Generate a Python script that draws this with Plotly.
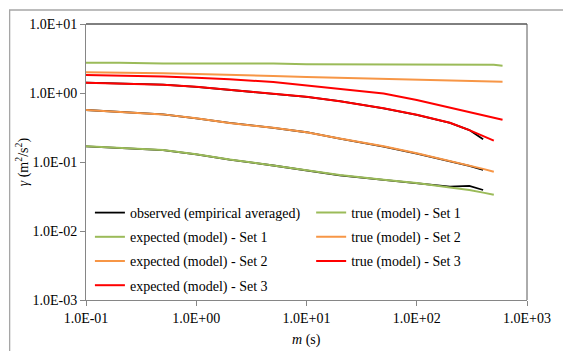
import plotly.graph_objects as go

# Averaging window m (s) for each series
m_observed = [0.1, 0.2, 0.5, 1, 2, 5, 10, 20, 50, 100, 200, 300, 400]
m_expected = [0.1, 0.2, 0.5, 1, 2, 5, 10, 20, 50, 100, 200, 300, 400, 500]
m_true = [0.1, 0.2, 0.5, 1, 2, 5, 10, 20, 50, 100, 200, 300, 400, 500, 600]

# Observed (empirical averaged) curves, one per set
obs_set1 = [0.169, 0.160, 0.149, 0.129, 0.108, 0.089, 0.076, 0.064, 0.055, 0.0488, 0.0440, 0.0452, 0.0393]
obs_set2 = [0.567, 0.533, 0.49, 0.43, 0.368, 0.313, 0.27, 0.219, 0.167, 0.132, 0.103, 0.088, 0.0766]
obs_set3 = [1.41, 1.37, 1.32, 1.23, 1.11, 0.98, 0.88, 0.76, 0.60, 0.48, 0.37, 0.29, 0.213]

# Model curves
true_set1 = [2.75, 2.75, 2.68, 2.68, 2.68, 2.67, 2.61, 2.60, 2.60, 2.60, 2.60, 2.60, 2.60, 2.56, 2.49]
true_set2 = [2.00, 1.98, 1.94, 1.88, 1.81, 1.76, 1.71, 1.66, 1.62, 1.57, 1.52, 1.50, 1.49, 1.47, 1.46]
true_set3 = [1.82, 1.79, 1.74, 1.66, 1.58, 1.44, 1.29, 1.15, 0.98, 0.79, 0.61, 0.53, 0.475, 0.44, 0.41]
exp_set1 = [0.169, 0.160, 0.149, 0.130, 0.109, 0.089, 0.076, 0.065, 0.0553, 0.0495, 0.0427, 0.0393, 0.036, 0.0335]
exp_set2 = [0.567, 0.533, 0.49, 0.43, 0.368, 0.313, 0.27, 0.219, 0.169, 0.134, 0.104, 0.0904, 0.0795, 0.0721]
exp_set3 = [1.41, 1.37, 1.32, 1.23, 1.11, 0.98, 0.88, 0.76, 0.60, 0.485, 0.37, 0.29, 0.238, 0.204]

x_tick_vals = [0.1, 1, 10, 100, 1000]
x_tick_text = ["1.0E-01", "1.0E+00", "1.0E+01", "1.0E+02", "1.0E+03"]
y_tick_vals = [0.001, 0.01, 0.1, 1, 10]
y_tick_text = ["1.0E-03", "1.0E-02", "1.0E-01", "1.0E+00", "1.0E+01"]

FONT = "Liberation Serif, Times New Roman, serif"
GREEN = "#9BBB59"
ORANGE = "#F79646"
RED = "#FF0000"

# Observed curves joined into a single trace with gaps between sets
obs_x = m_observed + [None] + m_observed + [None] + m_observed
obs_y = obs_set1 + [None] + obs_set2 + [None] + obs_set3

fig = go.Figure()


def add_line(x, y, name, color, legend, group, width=2):
    fig.add_trace(go.Scatter(
        x=x, y=y, name=name, mode="lines",
        line=dict(color=color, width=width),
        legend=legend, legendgroup=group,
        connectgaps=False,
    ))


add_line(obs_x, obs_y, "observed (empirical averaged)", "#000000", "legend", "a", 1.8)
add_line(m_true, true_set1, "true (model) - Set 1", GREEN, "legend2", "b")
add_line(m_expected, exp_set1, "expected (model) - Set 1", GREEN, "legend", "c")
add_line(m_true, true_set2, "true (model) - Set 2", ORANGE, "legend2", "d")
add_line(m_expected, exp_set2, "expected (model) - Set 2", ORANGE, "legend", "e")
add_line(m_true, true_set3, "true (model) - Set 3", RED, "legend2", "f")
add_line(m_expected, exp_set3, "expected (model) - Set 3", RED, "legend", "g")

W, H = 563, 351
L, R, T, B = 86, 26.5, 24, 51
pw, ph = W - L - R, H - T - B


def px(x):
    return (x - L) / pw


def py(y):
    return (H - B - y) / ph


legend_common = dict(
    font=dict(family=FONT, size=14, color="#000000"),
    bgcolor="rgba(0,0,0,0)", borderwidth=0,
    orientation="v", tracegroupgap=3, itemwidth=30,
    xanchor="left", yanchor="top", traceorder="grouped",
)

fig.update_layout(
    width=W, height=H,
    margin=dict(l=L, r=R, t=T, b=B),
    paper_bgcolor="white", plot_bgcolor="white",
    font=dict(family=FONT, size=14, color="#000000"),
    showlegend=True,
    legend=dict(x=px(90), y=py(197), **legend_common),
    legend2=dict(x=px(316), y=py(197), **legend_common),
    xaxis=dict(
        type="log", range=[-1, 3],
        tickvals=x_tick_vals, ticktext=x_tick_text,
        ticks="outside", ticklen=5, tickcolor="#868686",
        showline=True, linecolor="#868686", linewidth=1,
        showgrid=False, zeroline=False,
        tickfont=dict(family=FONT, size=14, color="#000000"),
    ),
    yaxis=dict(
        type="log", range=[-3, 1],
        tickvals=y_tick_vals, ticktext=y_tick_text,
        ticks="outside", ticklen=5, tickcolor="#868686",
        showline=True, linecolor="#868686", linewidth=1,
        showgrid=False, zeroline=False,
        tickfont=dict(family=FONT, size=14, color="#000000"),
    ),
    shapes=[
        # chart frame
        dict(type="rect", xref="paper", yref="paper",
             x0=px(8), x1=px(580), y0=py(370), y1=py(10),
             line=dict(color="#A6A6A6", width=1.3), layer="below"),
        # plot area top and right edges
        dict(type="line", xref="paper", yref="paper",
             x0=0, x1=1, y0=1, y1=1, line=dict(color="#000000", width=1)),
        dict(type="line", xref="paper", yref="paper",
             x0=1, x1=1, y0=0, y1=1, line=dict(color="#595959", width=1)),
    ],
    annotations=[
        dict(text="<i>γ</i> (m<sup>2</sup>/s<sup>2</sup>)", xref="paper", yref="paper",
             x=px(21), y=0.5, textangle=-90, showarrow=False,
             xanchor="center", yanchor="middle",
             font=dict(family=FONT, size=14, color="#000000")),
        dict(text="<i>m</i> (s)", xref="paper", yref="paper",
             x=0.5, y=py(340), showarrow=False,
             xanchor="center", yanchor="middle",
             font=dict(family=FONT, size=14, color="#000000")),
    ],
)

fig.write_html("out.html")
